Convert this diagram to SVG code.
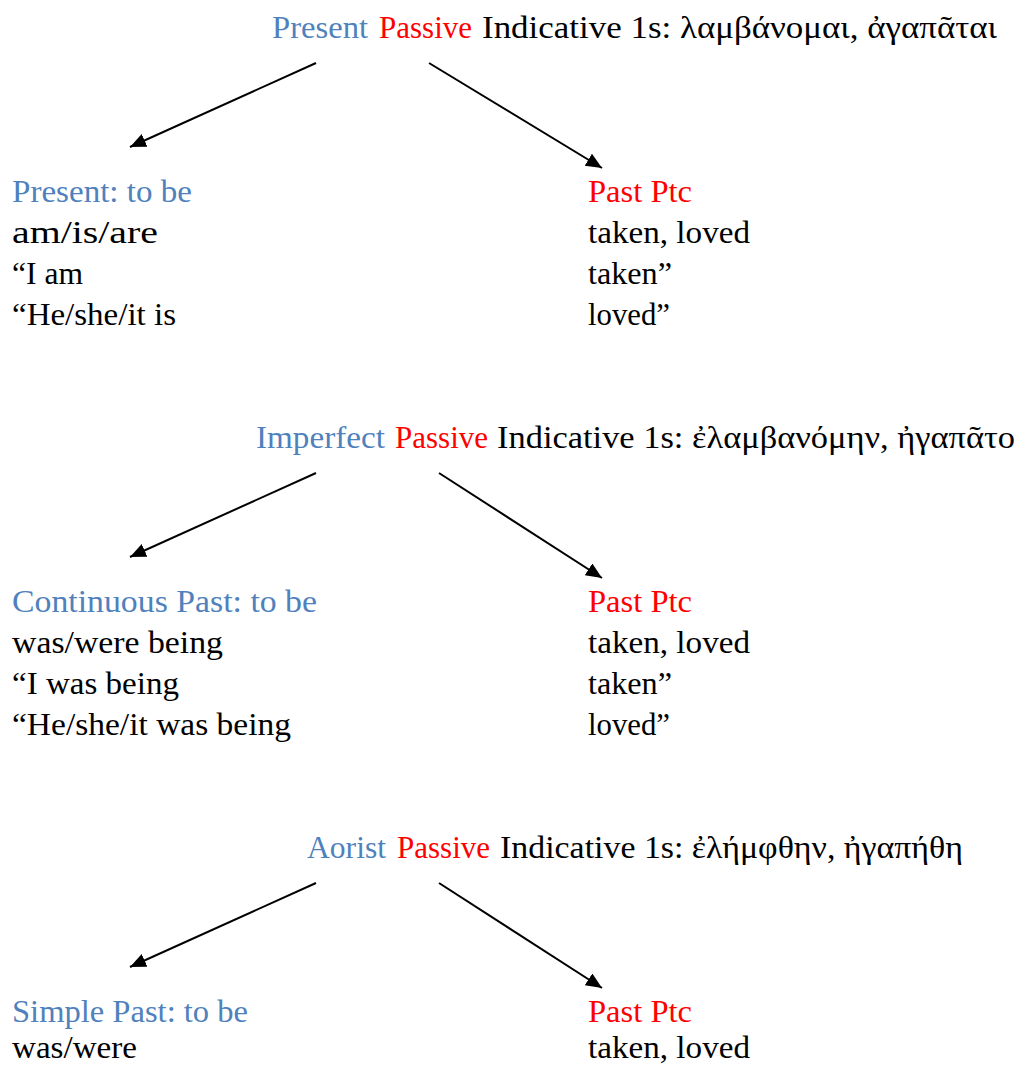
<svg xmlns="http://www.w3.org/2000/svg" width="1017" height="1066" viewBox="0 0 1017 1066">
<style>
text{font-family:"Liberation Serif","DejaVu Serif",serif;font-size:32px;fill:#000}
.b{fill:#4F81BD}
.r{fill:#FF0000}
.c{stroke:#000;stroke-width:2;fill:none;marker-end:url(#ah)}
</style>
<defs>
<marker id="ah" markerUnits="userSpaceOnUse" markerWidth="18" markerHeight="16" refX="16" refY="7" orient="auto">
<path d="M0,0 L16,7 L0,14 Z" fill="#000"/>
</marker>
</defs>
<rect width="1017" height="1066" fill="#fff"/>
<g id="connectors">
<line class="c" x1="316" y1="63" x2="130" y2="147"/>
<line class="c" x1="429" y1="63" x2="602" y2="168"/>
<line class="c" x1="316" y1="473" x2="130" y2="557"/>
<line class="c" x1="439" y1="473" x2="602" y2="578"/>
<line class="c" x1="316" y1="883" x2="130" y2="967"/>
<line class="c" x1="439" y1="883" x2="602" y2="988"/>
</g>
<g id="title-present">
<text class="b" x="272" y="38" textLength="96" lengthAdjust="spacingAndGlyphs">Present</text>
<text class="r" x="379" y="38" textLength="93" lengthAdjust="spacingAndGlyphs">Passive</text>
<text x="482" y="38" textLength="515" lengthAdjust="spacingAndGlyphs">Indicative 1s: λαμβάνομαι, ἀγαπᾶται</text>
</g>
<g id="present-to-be">
<text class="b" x="12" y="202" textLength="180" lengthAdjust="spacingAndGlyphs">Present: to be</text>
<text x="12" y="243" textLength="146" lengthAdjust="spacingAndGlyphs">am/is/are</text>
<text x="12" y="284" textLength="71" lengthAdjust="spacingAndGlyphs">“I am</text>
<text x="12" y="325" textLength="164" lengthAdjust="spacingAndGlyphs">“He/she/it is</text>
</g>
<g id="past-ptc-1">
<text class="r" x="588" y="202" textLength="104" lengthAdjust="spacingAndGlyphs">Past Ptc</text>
<text x="588" y="243" textLength="162" lengthAdjust="spacingAndGlyphs">taken, loved</text>
<text x="588" y="284" textLength="84" lengthAdjust="spacingAndGlyphs">taken”</text>
<text x="588" y="325" textLength="82" lengthAdjust="spacingAndGlyphs">loved”</text>
</g>
<g id="title-imperfect">
<text class="b" x="256" y="448" textLength="129" lengthAdjust="spacingAndGlyphs">Imperfect</text>
<text class="r" x="395" y="448" textLength="93" lengthAdjust="spacingAndGlyphs">Passive</text>
<text x="497" y="448" textLength="518" lengthAdjust="spacingAndGlyphs">Indicative 1s: ἐλαμβανόμην, ἠγαπᾶτο</text>
</g>
<g id="continuous-past">
<text class="b" x="12" y="612" textLength="305" lengthAdjust="spacingAndGlyphs">Continuous Past: to be</text>
<text x="12" y="653" textLength="211" lengthAdjust="spacingAndGlyphs">was/were being</text>
<text x="12" y="694" textLength="167" lengthAdjust="spacingAndGlyphs">“I was being</text>
<text x="12" y="735" textLength="279" lengthAdjust="spacingAndGlyphs">“He/she/it was being</text>
</g>
<g id="past-ptc-2">
<text class="r" x="588" y="612" textLength="104" lengthAdjust="spacingAndGlyphs">Past Ptc</text>
<text x="588" y="653" textLength="162" lengthAdjust="spacingAndGlyphs">taken, loved</text>
<text x="588" y="694" textLength="84" lengthAdjust="spacingAndGlyphs">taken”</text>
<text x="588" y="735" textLength="82" lengthAdjust="spacingAndGlyphs">loved”</text>
</g>
<g id="title-aorist">
<text class="b" x="307" y="858" textLength="79" lengthAdjust="spacingAndGlyphs">Aorist</text>
<text class="r" x="397" y="858" textLength="93" lengthAdjust="spacingAndGlyphs">Passive</text>
<text x="500" y="858" textLength="463" lengthAdjust="spacingAndGlyphs">Indicative 1s: ἐλήμφθην, ἠγαπήθη</text>
</g>
<g id="simple-past">
<text class="b" x="12" y="1022" textLength="236" lengthAdjust="spacingAndGlyphs">Simple Past: to be</text>
<text x="12" y="1058" textLength="125" lengthAdjust="spacingAndGlyphs">was/were</text>
</g>
<g id="past-ptc-3">
<text class="r" x="588" y="1022" textLength="104" lengthAdjust="spacingAndGlyphs">Past Ptc</text>
<text x="588" y="1058" textLength="162" lengthAdjust="spacingAndGlyphs">taken, loved</text>
</g>
</svg>
